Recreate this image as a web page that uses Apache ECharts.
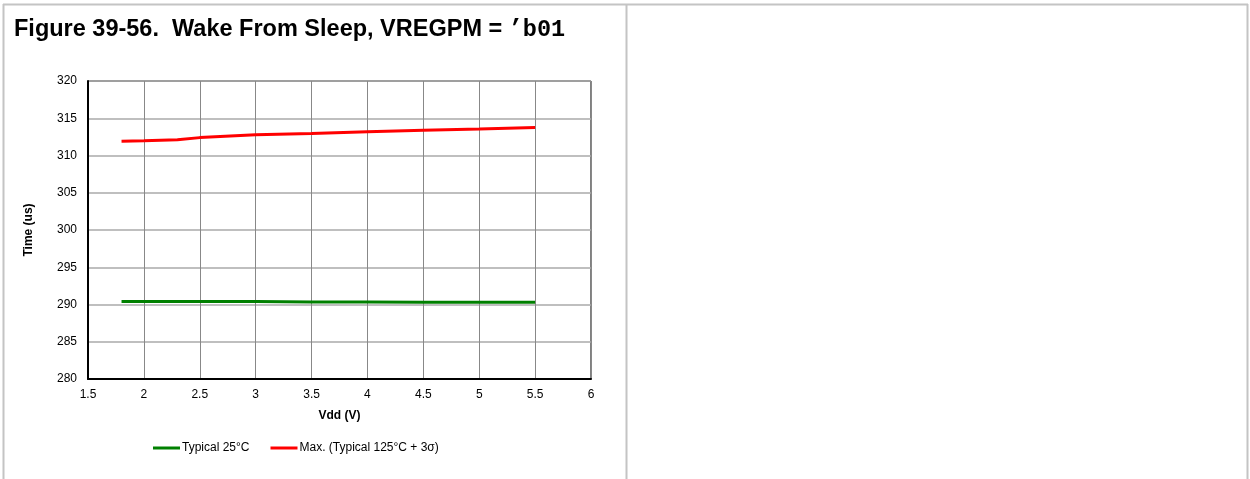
<!DOCTYPE html>
<html><head><meta charset="utf-8">
<script src="https://cdn.jsdelivr.net/npm/echarts@6/dist/echarts.min.js"></script>
<style>html,body{margin:0;padding:0;background:#fff}#c{width:1250px;height:479px}</style>
</head><body><div id="c"></div>
<script>
const vdd = [1.8, 2.0, 2.3, 2.5, 3.0, 3.5, 4.0, 4.5, 5.0, 5.5];
const typical25 = [290.4, 290.4, 290.4, 290.4, 290.4, 290.35, 290.35, 290.3, 290.3, 290.3];
const max125 = [311.9, 311.97, 312.1, 312.4, 312.8, 312.95, 313.2, 313.4, 313.57, 313.75];
const seriesNames = ['Typical 25°C', 'Max. (Typical 125°C + 3σ)'];
const xTicks = [1.5, 2, 2.5, 3, 3.5, 4, 4.5, 5, 5.5, 6];
const yTicks = [280, 285, 290, 295, 300, 305, 310, 315, 320];

const chart = echarts.init(document.getElementById('c'), null, {renderer: 'canvas'});
const font = 'Arial, "Liberation Sans", sans-serif';
chart.setOption({
  animation: false,
  backgroundColor: '#fff',
  title: {
    left: 9, top: 13,
    text: "{a|Figure 39-56.  Wake From Sleep, VREGPM = }{b|’b01}",
    textStyle: {
      rich: {
        a: {fontFamily: font, fontWeight: 'bold', fontSize: 23.5, color: '#000'},
        b: {fontFamily: '"Liberation Mono", "Courier New", monospace', fontWeight: 'bold', fontSize: 23.5, color: '#000'}
      }
    }
  },
  graphic: [
    {type: 'line', shape: {x1: 3, y1: 4.5, x2: 1248, y2: 4.5}, style: {stroke: '#c4c4c4', lineWidth: 2}, silent: true},
    {type: 'line', shape: {x1: 3.5, y1: 4, x2: 3.5, y2: 479}, style: {stroke: '#c4c4c4', lineWidth: 2}, silent: true},
    {type: 'line', shape: {x1: 626.5, y1: 4, x2: 626.5, y2: 479}, style: {stroke: '#c4c4c4', lineWidth: 2}, silent: true},
    {type: 'line', shape: {x1: 1247.5, y1: 4, x2: 1247.5, y2: 479}, style: {stroke: '#c4c4c4', lineWidth: 2}, silent: true}
  ],
  grid: {left: 88, top: 81, width: 503, height: 298, show: true, borderColor: '#000', borderWidth: 1, containLabel: false},
  legend: {
    left: 148, top: 437,
    itemWidth: 27, itemHeight: 3, itemGap: 21,
    icon: 'rect',
    textStyle: {fontFamily: font, fontSize: 12, color: '#000', padding: [0, 0, 0, -3]},
    data: seriesNames
  },
  xAxis: {
    type: 'value', min: 1.5, max: 6, interval: 0.5,
    name: 'Vdd (V)', nameLocation: 'middle', nameGap: 31,
    nameTextStyle: {fontFamily: font, fontWeight: 'bold', fontSize: 12, color: '#000'},
    axisLine: {show: true, onZero: false, lineStyle: {color: '#000', width: 2}},
    axisTick: {show: false},
    axisLabel: {fontFamily: font, fontSize: 12, color: '#000', margin: 10,
      customValues: xTicks, formatter: v => String(v)},
    splitLine: {show: true, lineStyle: {color: '#888', width: 1}}
  },
  yAxis: {
    type: 'value', min: 280, max: 320, interval: 5,
    name: 'Time (us)', nameLocation: 'middle', nameGap: 53, nameRotate: 90,
    nameTextStyle: {fontFamily: font, fontWeight: 'bold', fontSize: 12, color: '#000'},
    axisLine: {show: true, onZero: false, lineStyle: {color: '#000', width: 2}},
    axisTick: {show: false},
    axisLabel: {fontFamily: font, fontSize: 12, color: '#000', margin: 11,
      customValues: yTicks},
    splitLine: {show: true, lineStyle: {color: '#aaa', width: 1.5}}
  },
  series: [
    {name: seriesNames[0], type: 'line', data: vdd.map((x, i) => [x, typical25[i]]),
     showSymbol: false, lineStyle: {color: '#008000', width: 3}, itemStyle: {color: '#008000'}},
    {name: seriesNames[1], type: 'line', data: vdd.map((x, i) => [x, max125[i]]),
     showSymbol: false, lineStyle: {color: '#ff0000', width: 3}, itemStyle: {color: '#ff0000'}}
  ]
});
</script></body></html>
